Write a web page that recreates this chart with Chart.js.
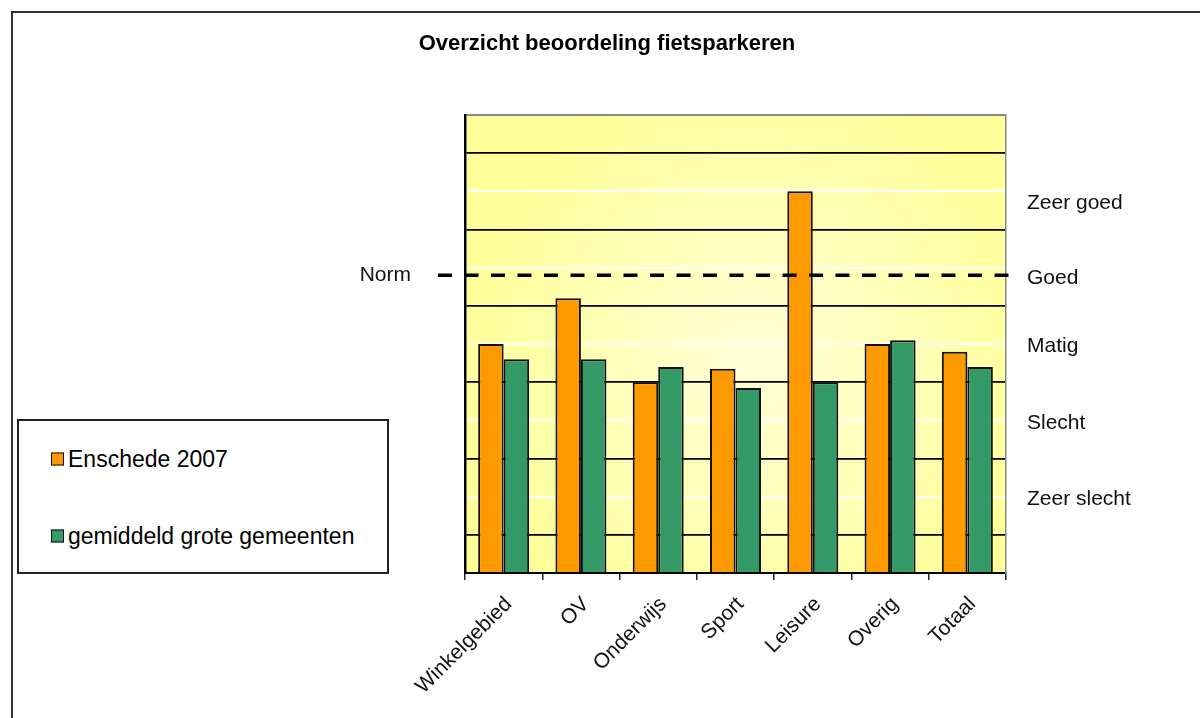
<!DOCTYPE html>
<html>
<head>
<meta charset="utf-8">
<title>Overzicht beoordeling fietsparkeren</title>
<script src="https://cdn.jsdelivr.net/npm/chart.js@4.4.1/dist/chart.umd.min.js"></script>
<style>
  html, body { margin: 0; padding: 0; background: #fff; overflow: hidden; }
  #wrap { position: relative; width: 1200px; height: 718px; overflow: hidden; font-family: 'Liberation Sans', Arial, sans-serif; }
  #frame { position: absolute; left: 11px; top: 11px; width: 1300px; height: 800px; border: 2px solid #333; }
  #chart { position: absolute; left: 0; top: 0; }
  #legend { position: absolute; left: 17px; top: 419px; width: 368px; height: 151px; border: 2px solid #222; background: #fff; }
  .item { position: absolute; left: 32px; display: flex; align-items: center; font-size: 23px; color: #000; transform: translateY(-50%); white-space: nowrap; }
  .swatch { width: 11px; height: 11px; border: 1.5px solid #111; margin-right: 4px; }
</style>
</head>
<body>
<div id="wrap">
  <div id="frame"></div>
  <canvas id="chart" width="1200" height="718"></canvas>
  <div id="legend"></div>
</div>
<script>
const categories = ['Winkelgebied', 'OV', 'Onderwijs', 'Sport', 'Leisure', 'Overig', 'Totaal'];
const enschede2007 = [6.0, 7.2, 5.0, 5.35, 10.0, 6.0, 5.8];
const grotGemeenten = [5.6, 5.6, 5.4, 4.85, 5.0, 6.1, 5.4];
const seriesNames = ['Enschede 2007', 'gemiddeld grote gemeenten'];
const seriesColors = ['#FF9900', '#339966'];
const ratingLabels = ['Zeer slecht', 'Slecht', 'Matig', 'Goed', 'Zeer goed'];
const ratingValues = [2, 4, 6, 7.8, 9.75];
const normValue = 7.8;

const FONT = "'Liberation Sans', Arial, sans-serif";

// yellow plot area, paler towards the middle
const plotBackground = {
    id: 'plotBackground',
    beforeDraw(chart) {
        const { ctx, chartArea: a } = chart;
        const cx = (a.left + a.right) / 2 + 20, cy = (a.top + a.bottom) / 2 + 20;
        const g = ctx.createRadialGradient(cx, cy, 0, cx, cy, a.width * 0.55);
        g.addColorStop(0, '#FFFFD8');
        g.addColorStop(1, '#FFFF99');
        ctx.save();
        ctx.fillStyle = g;
        ctx.fillRect(a.left, a.top, a.width, a.height);
        ctx.restore();
    }
};

// dashed "Norm" line
const normLine = {
    id: 'normLine',
    afterDatasetsDraw(chart) {
        const { ctx, chartArea: a, scales } = chart;
        const y = scales.y.getPixelForValue(normValue);
        ctx.save();
        ctx.strokeStyle = '#000';
        ctx.lineWidth = 3.5;
        ctx.setLineDash([14, 12.5]);
        ctx.beginPath();
        ctx.moveTo(a.left - 27, y);
        ctx.lineTo(a.right + 9, y);
        ctx.stroke();
        ctx.restore();
    }
};

const data = {
    labels: categories,
    datasets: [{
        label: seriesNames[0],
        data: enschede2007,
        backgroundColor: seriesColors[0],
        borderColor: '#111',
        borderWidth: 2
    }, {
        label: seriesNames[1],
        data: grotGemeenten,
        backgroundColor: seriesColors[1],
        borderColor: '#111',
        borderWidth: 2
    }]
};

const config = {
    type: 'bar',
    data: data,
    plugins: [plotBackground, normLine],
    options: {
        responsive: false,
        animation: false,
        datasets: { bar: { categoryPercentage: 0.66, barPercentage: 1 } },
        layout: { padding: { left: 14, top: 0, right: 0, bottom: 0 } },
        plugins: {
            legend: { display: false },
            tooltip: { enabled: false },
            title: {
                display: true,
                text: 'Overzicht beoordeling fietsparkeren',
                color: '#000',
                font: { family: FONT, size: 22, weight: 'bold' },
                padding: { top: 31, bottom: 57.6 }
            }
        },
        scales: {
            x: {
                offset: true,
                grid: { drawOnChartArea: false, drawTicks: true, tickLength: 7, offset: true, color: '#222', lineWidth: 1.5 },
                border: { display: true, color: '#000', width: 2 },
                ticks: { autoSkip: false, maxRotation: 45, minRotation: 45, padding: 12, labelOffset: 5, color: '#111', font: { family: FONT, size: 21 } },
                afterFit: s => { s.height = 145; }
            },
            y: {
                position: 'left',
                weight: 0,
                min: 0,
                max: 12,
                ticks: { display: false, stepSize: 1 },
                grid: {
                    drawTicks: false,
                    color: c => {
                        const v = c.tick.value;
                        if (v === 0) return 'rgba(0,0,0,0)';
                        if (v === 12) return '#888';
                        return v % 2 === 1 ? '#000' : '#fff';
                    },
                    lineWidth: c => (c.tick.value % 2 === 1 ? 1.7 : 2)
                },
                border: { display: true, color: '#000', width: 2.5 },
                afterFit: s => { s.width = 0; }
            },
            yn: {
                position: 'left',
                weight: 1,
                min: 0,
                max: 12,
                grid: { display: false },
                border: { display: false },
                afterBuildTicks: s => { s.ticks = [{ value: normValue }]; },
                ticks: { padding: 46, color: '#111', font: { family: FONT, size: 21 }, callback: () => 'Norm' },
                afterFit: s => { s.width = 451; }
            },
            y2: {
                position: 'right',
                min: 0,
                max: 12,
                grid: { drawOnChartArea: false, drawTicks: false },
                border: { display: true, color: '#888', width: 1.5 },
                afterBuildTicks: s => { s.ticks = ratingValues.map(v => ({ value: v })); },
                ticks: {
                    padding: 21,
                    labelOffset: 2.5,
                    color: '#111',
                    font: { family: FONT, size: 21 },
                    callback: (val, i) => ratingLabels[i]
                },
                afterFit: s => { s.width = 194; }
            }
        }
    }
};

const chartCanvas = document.getElementById('chart');
const chart = new Chart(chartCanvas.getContext('2d'), config);

// legend box
const legendBox = document.getElementById('legend');
const itemTops = [38, 115];
seriesNames.forEach((name, i) => {
    const item = document.createElement('div');
    item.className = 'item';
    item.style.top = itemTops[i] + 'px';
    const sw = document.createElement('span');
    sw.className = 'swatch';
    sw.style.background = seriesColors[i];
    const txt = document.createElement('span');
    txt.textContent = name;
    item.appendChild(sw);
    item.appendChild(txt);
    legendBox.appendChild(item);
});
</script>
</body>
</html>
